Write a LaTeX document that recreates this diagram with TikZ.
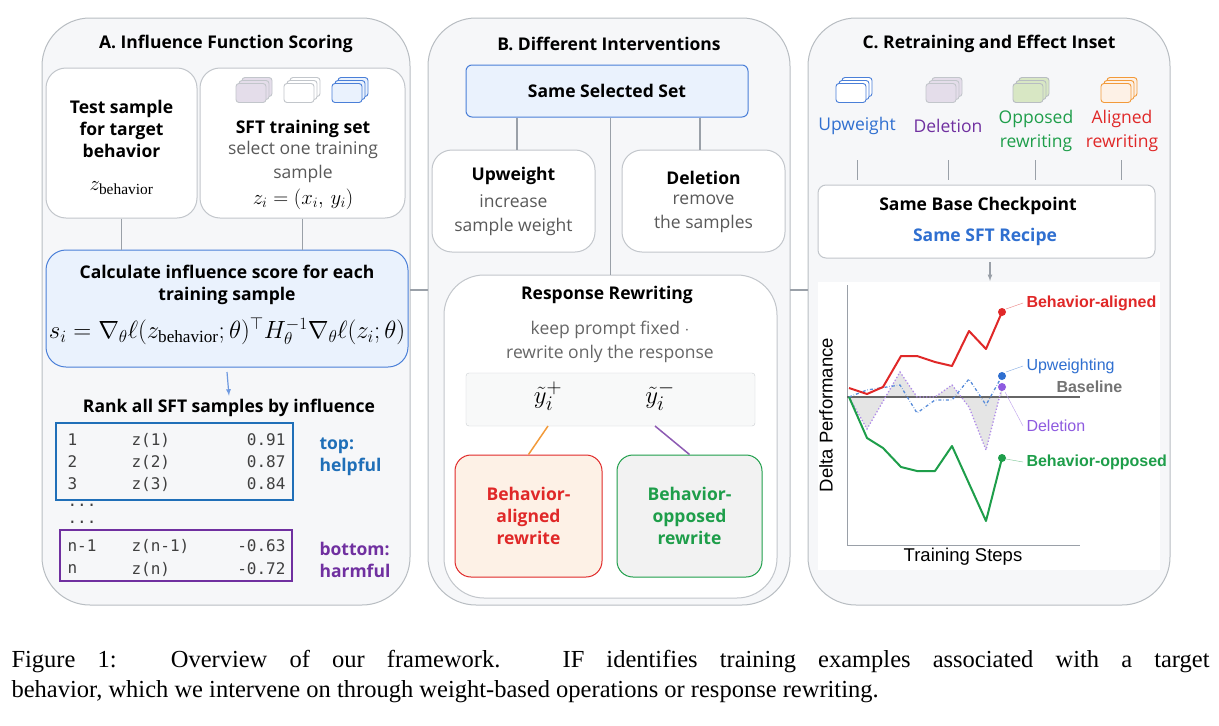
\documentclass[tikz,border=0pt]{standalone}
\usepackage{fontspec}
\setmainfont{Liberation Serif}
\setsansfont{Open Sans}
\setmonofont{DejaVu Sans Mono}
\newfontfamily\plotfont{Liberation Sans}
\usetikzlibrary{positioning}
\definecolor{panelgray}{HTML}{F6F7F9}
\definecolor{linegray}{HTML}{9AA0A8}
\definecolor{lightblue}{HTML}{EAF2FD}
\definecolor{boxblue}{HTML}{4A7FD8}
\definecolor{tabblue}{HTML}{1F6FB8}
\definecolor{tabpurple}{HTML}{7030A0}
\definecolor{myred}{HTML}{E02828}
\definecolor{mygreen}{HTML}{1E9E4A}
\definecolor{myblue}{HTML}{2F6FD0}
\definecolor{mypurple}{HTML}{8E5BE0}
\definecolor{myorange}{HTML}{F29A3A}
\definecolor{lightorange}{HTML}{FDF1E6}
\definecolor{lightgreen}{HTML}{D8E7C4}
\definecolor{lightpurple}{HTML}{E4DDEA}
\newcommand{\hd}{\sffamily\bfseries\fontsize{17.5}{22}\selectfont}
\newcommand{\bd}{\sffamily\fontsize{17.5}{23.5}\selectfont}
\tikzset{
  panel/.style={draw=linegray!70,fill=panelgray,rounded corners=48pt,line width=1pt},
  card/.style={draw=linegray!60,fill=white,rounded corners=20pt,line width=1pt,align=center},
  link/.style={draw=linegray,line width=1.2pt},
  stack/.style={draw=#1,fill=white,rounded corners=3pt,line width=0.9pt,minimum width=30pt,minimum height=19pt},
  curve/.style={line width=2pt,line join=round},
  tab/.style={font=\ttfamily\fontsize{16}{18}\selectfont,text=black!75},
}
\newcommand{\stk}[4]{% x y border fill
  \foreach \d in {6,3,0}
    \node[stack=#3,fill=#4] at (#1+\d,#2-\d) {};
}
\begin{document}
\begin{tikzpicture}[x=1pt,y=-1pt]
\useasboundingbox (0,0) rectangle (1219,726);
% panels
\draw[panel] (42,18) rectangle (410,605);
\draw[panel] (428,18) rectangle (790,605);
\draw[panel] (808,18) rectangle (1170,605);
\draw[link] (410,290) -- (428,290);
\draw[link] (790,290) -- (808,290);
\node[font=\hd] (ta) at (226,44) {A. Influence Function Scoring};
\node[font=\hd] (tb) at (609,44) {B. Different Interventions};
\node[font=\hd] (tc) at (989,44) {C. Retraining and Effect Inset};

% A
\node[card,minimum width=151pt,minimum height=150pt] (test) at (121.5,143) {};
\node[font=\hd,align=center] (testt) at (121.5,129) {Test sample\\for target\\behavior};
\node (testz) at (121.5,188) {\fontsize{22}{23}\selectfont$z_{\mathrm{behavior}}$};
\node[card,minimum width=205pt,minimum height=150pt] (sft) at (302.5,143) {};
\stk{251}{93}{linegray!60}{lightpurple}
\stk{299}{93}{linegray!60}{white}
\stk{347}{93}{boxblue}{lightblue}
\node[font=\hd] (sftt) at (303,129) {SFT training set};
\node[font=\bd,align=center,text=black!65] (sfts) at (303,162) {select one training\\sample};
\node (sftz) at (303,199) {\fontsize{22}{23}\selectfont$z_i=(x_i,\,y_i)$};
\node[card,draw=boxblue,fill=lightblue,minimum width=362pt,minimum height=117pt] (calc) at (227,308.5) {};
\node[font=\hd,align=center] (calct) at (227,285) {Calculate influence score for each\\training sample};
\node (calcf) at (227,331) {\fontsize{24.5}{26}\selectfont$s_i=\nabla_\theta\ell(z_{\mathrm{behavior}};\theta)^\top H_\theta^{-1}\nabla_\theta\ell(z_i;\theta)$};
\draw[link] (test.south) -- (test.south |- calc.north);
\draw[link] (sft.south) -- (sft.south |- calc.north);
\node[font=\hd] (rank) at (229,408) {Rank all SFT samples by influence};
\draw[-latex,draw=boxblue!80,line width=1.2pt] (calc.south |- 0,372) -- (rank.north);
\draw[tabblue,line width=2pt] (56,423) rectangle (293,500);
\draw[tabpurple,line width=2pt] (60,530) rectangle (292,581);
\foreach \y/\a/\b/\c in {440/1/z(1)/0.91,462/2/z(2)/0.87,484/3/z(3)/0.84,546/n-1/z(n-1)/-0.63,569/n/z(n)/-0.72}{
  \node[tab,anchor=west] at (64,\y) {\a};
  \node[tab,anchor=west] at (128,\y) {\b};
  \node[tab,anchor=east] at (289,\y) {\c};
}
\node[tab,anchor=west] at (64,505) {...};
\node[tab,anchor=west] at (64,522) {...};
\node[font=\hd,text=tabblue,align=left,anchor=west] (top) at (316,457) {top:\\helpful};
\node[font=\hd,text=tabpurple,align=left,anchor=west] (bot) at (316,560) {bottom:\\harmful};

% B
\node[card,draw=boxblue,fill=lightblue,rounded corners=6pt,minimum width=282pt,minimum height=52pt,font=\hd] (same) at (607,91) {Same Selected Set};
\node[card,minimum width=163pt,minimum height=102pt] (up) at (513.5,201) {};
\node[font=\hd] at (513.5,176) {Upweight};
\node[font=\bd,align=center,text=black!65] at (513.5,215) {increase\\sample weight};
\node[card,minimum width=163pt,minimum height=102pt] (del) at (703.5,201) {};
\node[font=\hd] at (703.5,178) {Deletion};
\node[font=\bd,align=center,text=black!65] at (703.5,214) {remove\\the samples};
\node[card,rounded corners=40pt,minimum width=333pt,minimum height=323pt] (resp) at (610.5,436.5) {};
\draw[link] (same.south -| 517,0) -- (517,150);
\draw[link] (same.south -| 700,0) -- (700,150);
\draw[link] (same.south -| resp.north) -- (resp.north);
\node[font=\hd] (respt) at (607,295) {Response Rewriting};
\node[font=\bd,align=center,text=black!60] (resps) at (610,342) {keep prompt fixed $\cdot$\\rewrite only the response};
\node[draw=linegray!50,fill=panelgray!80!gray!20,rounded corners=3pt,minimum width=289pt,minimum height=53pt] (yy) at (610.5,399.5) {};
\node (yp) at (548,396) {\fontsize{28}{29}\selectfont$\tilde y_i^{+}$};
\node (ym) at (660,396) {\fontsize{28}{29}\selectfont$\tilde y_i^{-}$};
\node[card,draw=myred,fill=lightorange,minimum width=147pt,minimum height=122pt,rounded corners=16pt,font=\hd,text=myred] (ali) at (528.5,516) {Behavior-\\aligned\\rewrite};
\node[card,draw=mygreen,fill=panelgray!70!gray!30,minimum width=145pt,minimum height=122pt,rounded corners=16pt,font=\hd,text=mygreen] (opp) at (689.5,516) {Behavior-\\opposed\\rewrite};
\draw[myorange,line width=1.5pt] (548,426) -- (ali.north);
\draw[tabpurple!80,line width=1.5pt] (655,426) -- (opp.north);

% C
\stk{851}{93}{boxblue}{white}
\stk{941}{93}{linegray!60}{lightpurple}
\stk{1028}{93}{linegray!70}{lightgreen}
\stk{1116}{93}{myorange}{lightorange}
\node[font=\bd,text=myblue] (lu) at (857,126) {Upweight};
\node[font=\bd,text=tabpurple] (ld) at (948,126) {Deletion};
\node[font=\bd,text=mygreen,align=center] (lo) at (1036,131) {Opposed\\rewriting};
\node[font=\bd,text=myred,align=center] (la) at (1122,131) {Aligned\\rewriting};
\node[card,rounded corners=8pt,minimum width=337pt,minimum height=73pt] (base) at (986.5,221.5) {};
\node[font=\hd] (baset) at (978,206) {Same Base Checkpoint};
\node[font=\hd,text=myblue] (bases) at (985,237) {Same SFT Recipe};
\foreach \x in {857,948,1035,1121} \draw[link,line width=1pt] (\x,160) -- (\x,180);
\fill[white] (818,282) rectangle (1160,570);
\draw[-latex,draw=linegray,line width=1.2pt] (990,262) -- (990,281);
\draw[linegray,line width=1pt] (847,285) -- (847,545) -- (1080,545);
\fill[gray!20] (849,397) -- (867,429) -- (900,372) -- (917,397) -- (935,397) -- (952,385) -- (969,407) -- (986,450) -- (1002,387) -- (1002,397) -- cycle;
\draw[black!60,line width=1.2pt] (847,397) -- (1080,397);
\draw[mypurple!70,dotted,line width=1.3pt] (849,397) -- (867,429) -- (900,372) -- (917,397) -- (935,397) -- (952,385) -- (969,407) -- (986,450) -- (1002,387);
\draw[myblue!80,dash dot,line width=1.3pt] (849,397) -- (867,390) -- (900,385) -- (917,413) -- (935,400) -- (952,400) -- (969,379) -- (986,405) -- (1002,376);
\draw[curve,myred] (849,388) -- (867,394) -- (883,387) -- (901,356) -- (917,356) -- (935,362) -- (952,366) -- (969,331) -- (986,349) -- (1002,312);
\draw[curve,mygreen] (849,397) -- (867,438) -- (883,448) -- (901,467) -- (917,471) -- (935,471) -- (952,446) -- (986,521) -- (1002,458);
\fill[myred] (1002,312) circle (4);
\fill[myblue] (1002,376) circle (4);
\fill[mypurple] (1002,387) circle (4);
\fill[mygreen] (1002,458) circle (4);
\node[font=\plotfont\bfseries\fontsize{16}{18}\selectfont,text=myred,anchor=west] (pa) at (1023,303) {Behavior-aligned};
\node[font=\plotfont\fontsize{16}{18}\selectfont,text=myblue,anchor=west] (pu) at (1023,366) {Upweighting};
\node[font=\plotfont\bfseries\fontsize{16}{18}\selectfont,text=black!55,anchor=west] (pb) at (1053,387) {Baseline};
\node[font=\plotfont\fontsize{16}{18}\selectfont,text=mypurple,anchor=west] (pd) at (1023,426) {Deletion};
\node[font=\plotfont\bfseries\fontsize{16}{18}\selectfont,text=mygreen,anchor=west] (po) at (1023,462) {Behavior-opposed};
\draw[myred!60] (1006,309) -- (pa.west);
\draw[myblue!60] (1006,372) -- (pu.west);
\draw[mypurple!60] (1005,392) -- (pd.west);
\draw[mygreen!60] (1006,459) -- (po.west);
\node[font=\plotfont\fontsize{18.5}{20}\selectfont,rotate=90] (ylab) at (826,415) {Delta Performance};
\node[font=\plotfont\fontsize{18.5}{20}\selectfont] (xlab) at (963,557) {Training Steps};

% caption
\node[anchor=west,font=\fontsize{24.5}{27}\selectfont] (cap1) at (8,662) {\makebox[1198pt][s]{Figure 1:\hspace{14pt} Overview of our framework.\hspace{6pt} IF identifies training examples associated with a target}};
\node[anchor=west,font=\fontsize{24.5}{27}\selectfont] (cap2) at (8,692) {behavior, which we intervene on through weight-based operations or response rewriting.};
\end{tikzpicture}
\end{document}
